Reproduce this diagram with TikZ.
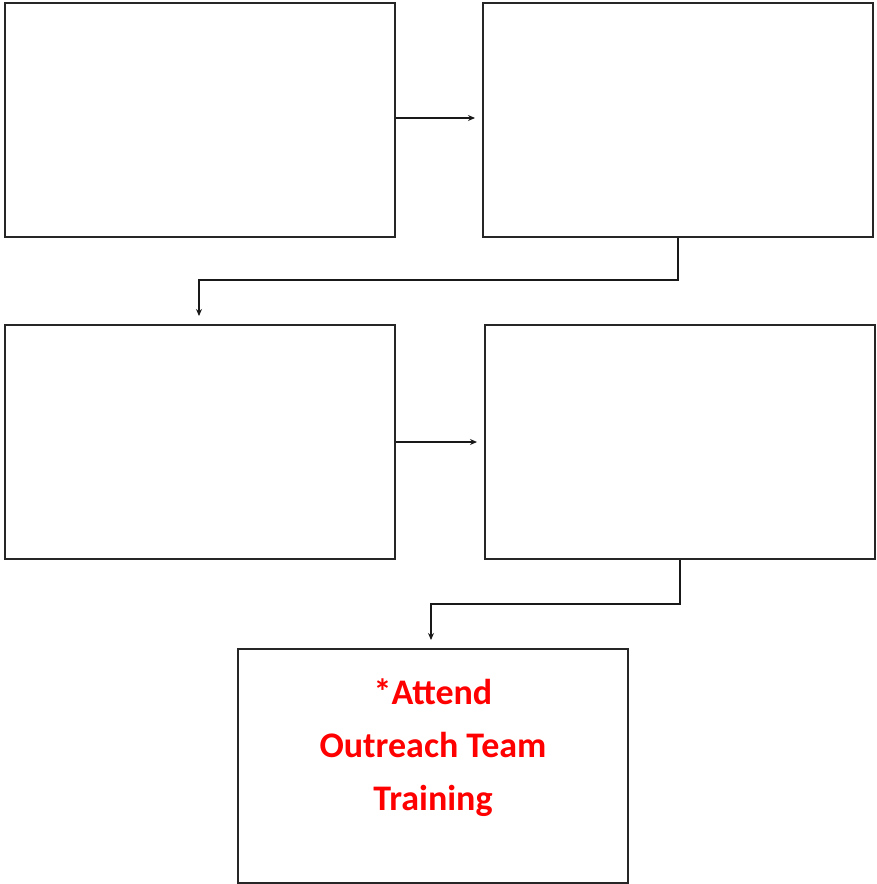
\documentclass[tikz,border=0pt]{standalone}
\usepackage{fontspec}
\setmainfont{Carlito}
\usetikzlibrary{arrows.meta}
\begin{document}
\begin{tikzpicture}[x=1pt,y=1pt,
  boxstyle/.style={draw=black!85,line width=2pt,fill=white,minimum width=390pt,minimum height=234pt,inner sep=0pt,anchor=north west},
  conn/.style={draw=black!90,line width=1.5pt,-{Stealth[length=7pt,width=6pt]}}]
\useasboundingbox (0,0) rectangle (876,-884);
\node[boxstyle] (b1) at (4,-2) {};
\node[boxstyle] (b2) at (482,-2) {};
\node[boxstyle] (b3) at (4,-324) {};
\node[boxstyle] (b4) at (484,-324) {};
\node[boxstyle] (b5) at (237,-648) {};
\node[text=red,font=\bfseries\fontsize{36}{53}\selectfont,align=center] (t) at (b5.center) [yshift=18pt] {*Attend\\Outreach Team\\Training};
\coordinate (c1) at (475,-118);
\draw[conn] (b1.east |- c1) -- (c1);
\coordinate (c3) at (477,-442);
\draw[conn] (b3.east |- c3) -- (c3);
\coordinate (a2) at (678,-280);
\coordinate (e2) at (199,-316);
\draw[conn] (b2.south -| a2) -- (a2) -- (a2 -| e2) -- (e2);
\coordinate (a4) at (680,-604);
\coordinate (e4) at (431,-640);
\draw[conn] (b4.south -| a4) -- (a4) -- (a4 -| e4) -- (e4);
\end{tikzpicture}
\end{document}
